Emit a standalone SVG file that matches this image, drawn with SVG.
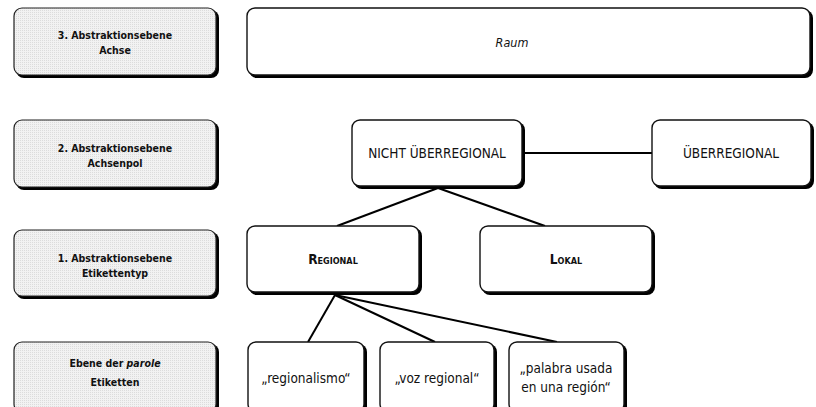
<svg xmlns="http://www.w3.org/2000/svg" width="816" height="407" viewBox="0 0 816 407">
<style>
text{font-family:"DejaVu Sans Condensed","DejaVu Sans","Liberation Sans",sans-serif;font-stretch:condensed;fill:#111;text-anchor:middle}
.lvl text{font-size:10.5px;font-weight:bold}
.nd text{font-size:13.5px}
.sc{font-size:15px;font-variant:small-caps;font-weight:bold}
.sh{fill:#000}
.lv{stroke:#222;stroke-width:1.2}
.bx{fill:#fff;stroke:#111;stroke-width:1.4}
.cn line{stroke:#000;stroke-width:2}
</style>
<defs>
<pattern id="dots" width="2" height="2" patternUnits="userSpaceOnUse"><rect width="2" height="2" fill="#f2f2f2"/><rect width="1" height="1" fill="#dcdcdc"/></pattern>
</defs>
<g id="lvl3" class="lvl"><rect class="sh" x="16" y="10" width="203" height="68" rx="8"/><rect class="lv" x="14" y="8" width="202" height="67" rx="8" fill="url(#dots)"/><text x="115" y="39">3. Abstraktionsebene</text><text x="115" y="54">Achse</text></g>
<g id="lvl2" class="lvl"><rect class="sh" x="16" y="122" width="203" height="68" rx="8"/><rect class="lv" x="14" y="120" width="202" height="67" rx="8" fill="url(#dots)"/><text x="115" y="152">2. Abstraktionsebene</text><text x="115" y="167">Achsenpol</text></g>
<g id="lvl1" class="lvl"><rect class="sh" x="16" y="232" width="203" height="67" rx="8"/><rect class="lv" x="14" y="230" width="202" height="66" rx="8" fill="url(#dots)"/><text x="115" y="262">1. Abstraktionsebene</text><text x="115" y="277">Etikettentyp</text></g>
<g id="lvl0" class="lvl"><rect class="sh" x="16" y="344" width="203" height="70" rx="8"/><rect class="lv" x="14" y="342" width="202" height="70" rx="8" fill="url(#dots)"/><text x="115" y="367">Ebene der <tspan font-style="italic">parole</tspan></text><text x="115" y="386">Etiketten</text></g>
<g id="connectors" class="cn">
<line x1="523" y1="153" x2="652" y2="153"/>
<line x1="438" y1="188" x2="337" y2="226"/>
<line x1="438" y1="188" x2="545" y2="226"/>
<line x1="335" y1="295" x2="308" y2="342"/>
<line x1="335" y1="295" x2="435" y2="342"/>
<line x1="335" y1="295" x2="557" y2="342"/>
</g>
<g id="raum" class="nd"><rect class="sh" x="249" y="10" width="564" height="68" rx="8"/><rect class="bx" x="247" y="8" width="563" height="67" rx="8"/><text x="512" y="47" font-style="italic" style="font-size:12.5px">Raum</text></g>
<g id="nicht" class="nd"><rect class="sh" x="354" y="122" width="171" height="67" rx="8"/><rect class="bx" x="352" y="120" width="170" height="66" rx="8"/><text x="437" y="158">NICHT ÜBERREGIONAL</text></g>
<g id="ueber" class="nd"><rect class="sh" x="654" y="122" width="160" height="67" rx="8"/><rect class="bx" x="652" y="120" width="159" height="66" rx="8"/><text x="731" y="158">ÜBERREGIONAL</text></g>
<g id="regional" class="nd"><rect class="sh" x="249" y="228" width="173" height="67" rx="8"/><rect class="bx" x="247" y="226" width="172" height="66" rx="8"/><text x="333" y="264" class="sc">Regional</text></g>
<g id="lokal" class="nd"><rect class="sh" x="482" y="228" width="173" height="67" rx="8"/><rect class="bx" x="480" y="226" width="172" height="66" rx="8"/><text x="566" y="264" class="sc">Lokal</text></g>
<g id="regionalismo" class="nd"><rect class="sh" x="250" y="344" width="117" height="70" rx="8"/><rect class="bx" x="248" y="342" width="116" height="70" rx="8"/><text x="306" y="383">„regionalismo“</text></g>
<g id="voz" class="nd"><rect class="sh" x="382" y="344" width="115" height="70" rx="8"/><rect class="bx" x="380" y="342" width="114" height="70" rx="8"/><text x="437" y="383">„voz regional“</text></g>
<g id="palabra" class="nd"><rect class="sh" x="511" y="344" width="116" height="70" rx="8"/><rect class="bx" x="509" y="342" width="115" height="70" rx="8"/><text x="566" y="373">„palabra usada</text><text x="566" y="392">en una región“</text></g>
</svg>
